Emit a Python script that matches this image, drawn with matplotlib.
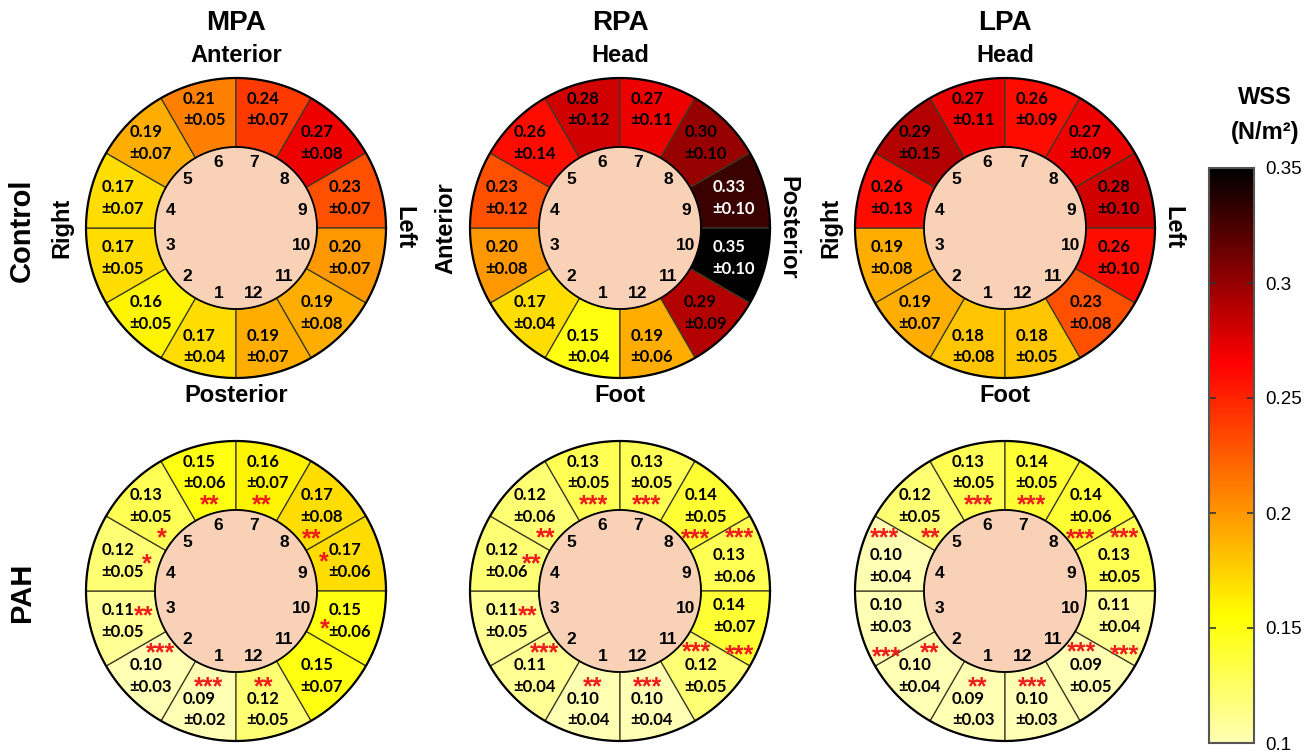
import numpy as np
import matplotlib
matplotlib.use("Agg")
import matplotlib.pyplot as plt
from matplotlib.colors import LinearSegmentedColormap, Normalize
from matplotlib.cm import ScalarMappable
from matplotlib.transforms import offset_copy

# ---------------- data ----------------
segments = list(range(1, 13))

mpa_ctrl_mean = [0.17, 0.16, 0.17, 0.17, 0.19, 0.21, 0.24, 0.27, 0.23, 0.20, 0.19, 0.19]
mpa_ctrl_sd   = [0.04, 0.05, 0.05, 0.07, 0.07, 0.05, 0.07, 0.08, 0.07, 0.07, 0.08, 0.07]

rpa_ctrl_mean = [0.15, 0.17, 0.20, 0.23, 0.26, 0.28, 0.27, 0.30, 0.33, 0.35, 0.29, 0.19]
rpa_ctrl_sd   = [0.04, 0.04, 0.08, 0.12, 0.14, 0.12, 0.11, 0.10, 0.10, 0.10, 0.09, 0.06]

lpa_ctrl_mean = [0.18, 0.19, 0.19, 0.26, 0.29, 0.27, 0.26, 0.27, 0.28, 0.26, 0.23, 0.18]
lpa_ctrl_sd   = [0.08, 0.07, 0.08, 0.13, 0.15, 0.11, 0.09, 0.09, 0.10, 0.10, 0.08, 0.05]

mpa_pah_mean = [0.09, 0.10, 0.11, 0.12, 0.13, 0.15, 0.16, 0.17, 0.17, 0.15, 0.15, 0.12]
mpa_pah_sd   = [0.02, 0.03, 0.05, 0.05, 0.05, 0.06, 0.07, 0.08, 0.06, 0.06, 0.07, 0.05]
mpa_pah_sig  = ["***", "***", "**", "*", "*", "**", "**", "**", "*", "*", "", "**"]

rpa_pah_mean = [0.10, 0.11, 0.11, 0.12, 0.12, 0.13, 0.13, 0.14, 0.13, 0.14, 0.12, 0.10]
rpa_pah_sd   = [0.04, 0.04, 0.05, 0.06, 0.06, 0.05, 0.05, 0.05, 0.06, 0.07, 0.05, 0.04]
rpa_pah_sig  = ["**", "***", "**", "**", "**", "***", "***", "***", "***", "***", "***", "***"]

lpa_pah_mean = [0.09, 0.10, 0.10, 0.10, 0.12, 0.13, 0.14, 0.14, 0.13, 0.11, 0.09, 0.10]
lpa_pah_sd   = [0.03, 0.04, 0.03, 0.04, 0.05, 0.05, 0.05, 0.06, 0.05, 0.04, 0.05, 0.03]
lpa_pah_sig  = ["**", "**", "***", "***", "**", "***", "***", "***", "***", "***", "***", "***"]

vessels = ["MPA", "RPA", "LPA"]
groups = ["Control", "PAH"]
top_labels = ["Anterior", "Head", "Head"]
bottom_labels = ["Posterior", "Foot", "Foot"]
left_labels = ["Right", "Anterior", "Right"]
right_labels = ["Left", "Posterior", "Left"]

cbar_ticks = [0.1, 0.15, 0.2, 0.25, 0.3, 0.35]
cbar_ticklabels = ["0.1", "0.15", "0.2", "0.25", "0.3", "0.35"]
vmin, vmax = 0.1, 0.35

# ---------------- figure ----------------
W, H = 1311, 754
fig = plt.figure(figsize=(W / 100, H / 100), dpi=100)
fig.patch.set_facecolor("white")

HEAD = "Liberation Sans"
NUMF = "Lato"

cmap = LinearSegmentedColormap.from_list(
    "wss", [(0.0, "#ffffb4"), (0.22, "#ffff00"), (0.66, "#ff0000"), (1.0, "#000000")], N=256)
cmap.set_under("#ffffb4")
norm = Normalize(vmin=vmin, vmax=vmax)


def fx(px):
    return px / W


def fy(py):
    return 1 - py / H


col_cx = [236, 620, 1005]
row_cy = [228, 591]
R = 150.0
r_in = 0.54

star_off = [-2, -8, -3, -5, 7, 1, -1, -8, 6, -5, 9, 2]
star_out_off = {3: 12, 4: -11, 9: 11, 10: -11}
text_shift_out = {3: -2.5, 4: 2.5, 9: -2.5, 10: 2.5}

panels = [
    [(mpa_ctrl_mean, mpa_ctrl_sd, None), (rpa_ctrl_mean, rpa_ctrl_sd, None), (lpa_ctrl_mean, lpa_ctrl_sd, None)],
    [(mpa_pah_mean, mpa_pah_sd, mpa_pah_sig), (rpa_pah_mean, rpa_pah_sd, rpa_pah_sig), (lpa_pah_mean, lpa_pah_sd, lpa_pah_sig)],
]

tt = np.linspace(0, 2 * np.pi, 400)

for ri in range(2):
    for ci in range(3):
        means, sds, sig = panels[ri][ci]
        cx, cy = col_cx[ci], row_cy[ri]
        ax = fig.add_axes([fx(cx - R), fy(cy + R), 2 * R / W, 2 * R / H], projection="polar")
        ax.set_ylim(0, 1)
        ax.set_axis_off()
        seg = np.array(segments)
        theta = np.deg2rad(285 - 30 * seg)
        colors = cmap(norm(np.array(means)))
        ax.bar(theta, 1 - r_in, width=np.deg2rad(30), bottom=r_in, color=colors,
               edgecolor="#3b3a22", linewidth=0.9, align="center")
        ax.fill(tt, np.full_like(tt, r_in), color="#f8d1b6", zorder=3, lw=0)
        ax.plot(tt, np.full_like(tt, r_in), color="black", lw=1.3, zorder=4)
        ax.plot(tt, np.ones_like(tt), color="black", lw=1.6, zorder=4, clip_on=False)
        star_tr = offset_copy(ax.transData, fig=fig, x=0, y=-4, units="points")
        for k, m, s, th in zip(seg, means, sds, theta):
            tc = "white" if m >= 0.32 else "black"
            st = sig[k - 1] if sig is not None else ""
            outward = st == "***" and k in star_out_off
            tang = 285 - 30 * k + (text_shift_out[k] if outward else 0)
            rt = 0.77 + 0.05 * abs(np.sin(np.deg2rad(tang)))
            ax.text(np.deg2rad(tang), rt, f"{m:.2f}\n\u00b1{s:.2f}", ha="center", va="center",
                    multialignment="left", fontsize=12, fontweight="bold",
                    family=NUMF, color=tc, linespacing=1.45, zorder=5)
            ax.text(th, 0.455, str(k), ha="center", va="center", fontsize=12.5,
                    fontweight="bold", family=HEAD, color="black", zorder=5)
            if st:
                if outward:
                    ang = 285 - 30 * k + star_out_off[k]
                    rr = 0.89
                else:
                    ang = 285 - 30 * k + star_off[k - 1]
                    rr = 0.63
                ax.text(np.deg2rad(ang), rr, st, ha="center", va="center",
                        fontsize=18, fontweight="bold", family=HEAD, color="#ee1c1c",
                        transform=star_tr, zorder=6)

        if ri == 0:
            fig.text(fx(cx), fy(23), vessels[ci], ha="center", va="center",
                     fontsize=20, fontweight="bold", family=HEAD)
            fig.text(fx(cx), fy(56), top_labels[ci], ha="center", va="center",
                     fontsize=17, fontweight="bold", family=HEAD)
            fig.text(fx(cx), fy(396), bottom_labels[ci], ha="center", va="center",
                     fontsize=17, fontweight="bold", family=HEAD)
            fig.text(fx(cx - 174), fy(cy), left_labels[ci], ha="center", va="center",
                     rotation=90, fontsize=17, fontweight="bold", family=HEAD)
            fig.text(fx(cx + 168), fy(cy), right_labels[ci], ha="center", va="center",
                     rotation=-90, fontsize=17, fontweight="bold", family=HEAD)

fig.text(fx(22), fy(230), groups[0], ha="center", va="center", rotation=90,
         fontsize=21, fontweight="bold", family=HEAD)
fig.text(fx(22), fy(592), groups[1], ha="center", va="center", rotation=90,
         fontsize=21, fontweight="bold", family=HEAD)

# ---------------- colorbar ----------------
cax = fig.add_axes([fx(1209), fy(743), fx(45), (743 - 168) / H])
sm = ScalarMappable(norm=norm, cmap=cmap)
cb = fig.colorbar(sm, cax=cax, orientation="vertical")
cb.set_ticks(cbar_ticks)
cb.set_ticklabels(cbar_ticklabels)
cb.outline.set_edgecolor("#555555")
cb.outline.set_linewidth(1.5)
cax.tick_params(axis="y", direction="in", left=True, right=True, length=5, width=1.2,
                color="#333333", labelsize=13.5, pad=8)
for lab in cax.get_yticklabels():
    lab.set_family(HEAD)
fig.text(fx(1265), fy(98), "WSS", ha="center", va="center", fontsize=17,
         fontweight="bold", family=HEAD)
fig.text(fx(1265), fy(132), "(N/m\u00b2)", ha="center", va="center", fontsize=17,
         fontweight="bold", family=HEAD)

fig.savefig("out.png", dpi=100)
